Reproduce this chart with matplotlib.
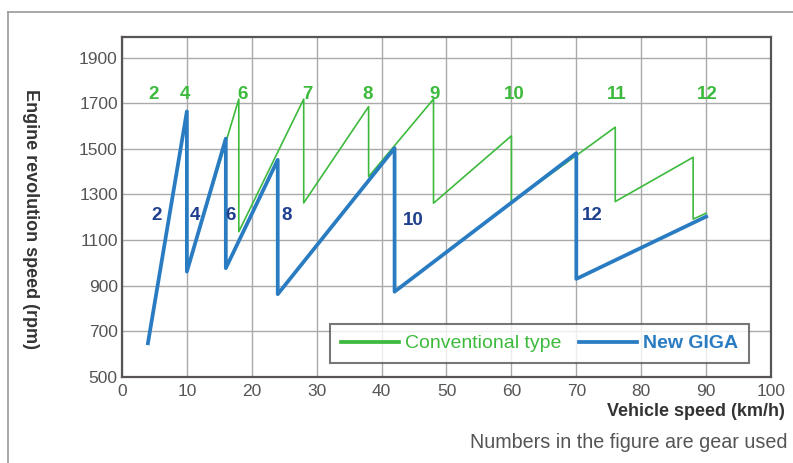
import matplotlib.pyplot as plt
from matplotlib.lines import Line2D

plt.rcParams['font.family'] = ['Liberation Sans', 'DejaVu Sans']

# conventional type (green) speed / rpm path
conv_speed = [4, 10, 10, 18, 18, 28, 28, 38, 38, 48, 48, 60, 60, 76, 76, 88, 88, 90]
conv_rpm = [650, 1660, 960, 1718, 1137, 1718, 1263, 1685, 1378, 1718, 1262, 1557, 1264, 1595, 1269, 1463, 1192, 1218]

# New GIGA (blue) speed / rpm path
giga_speed = [4, 10, 10, 16, 16, 24, 24, 42, 42, 70, 70, 90]
giga_rpm = [648, 1664, 962, 1545, 977, 1452, 863, 1503, 874, 1481, 930, 1203]

# gear labels
conv_gears = ['2', '4', '6', '7', '8', '9', '10', '11', '12']
conv_gear_x = [4.9, 9.7, 18.6, 28.6, 37.9, 48.1, 60.4, 76.2, 90.1]
conv_gear_y = 1737
giga_gears = ['2', '4', '6', '8', '10', '12']
giga_gear_x = [5.4, 11.2, 16.8, 25.3, 44.9, 72.4]
giga_gear_y = [1206, 1206, 1206, 1206, 1184, 1206]

xticks = list(range(0, 101, 10))
yticks = list(range(500, 2000, 200))

green = '#3dba3d'
blue = '#2a7cc2'
navy = '#1f3f8f'

fig = plt.figure(figsize=(7.93, 4.63), dpi=100)
ax = fig.add_axes([0.1538, 0.1857, 0.8185, 0.7343])

ax.plot(conv_speed, conv_rpm, color=green, linewidth=1.2, zorder=3)
ax.plot(giga_speed, giga_rpm, color=blue, linewidth=2.7, zorder=4)

for g, x in zip(conv_gears, conv_gear_x):
    ax.text(x, conv_gear_y, g, color=green, fontsize=13.5, fontweight='bold',
            ha='center', va='center', zorder=5)
for g, x, y in zip(giga_gears, giga_gear_x, giga_gear_y):
    ax.text(x, y, g, color=navy, fontsize=13.5, fontweight='bold',
            ha='center', va='center', zorder=5)

ax.set_xlim(0, 100)
ax.set_ylim(500, 1990)
ax.set_xticks(xticks)
ax.set_yticks(yticks)
ax.grid(True, color='#aaaaaa', linewidth=1.0, zorder=0)
ax.set_axisbelow(True)
ax.tick_params(axis='both', length=0, labelsize=12.5, labelcolor='#555555')
ax.tick_params(axis='x', pad=5)
ax.tick_params(axis='y', pad=3)
for s in ax.spines.values():
    s.set_color('#5a5555')
    s.set_linewidth(1.6)

handles = [Line2D([], [], color=green, linewidth=2.7),
           Line2D([], [], color=blue, linewidth=2.7)]
leg = ax.legend(handles, ['Conventional type', 'New GIGA'], ncol=2,
                loc='lower right', bbox_to_anchor=(0.966, 0.041),
                fontsize=14, frameon=True, fancybox=False,
                handlelength=3.0, handletextpad=0.3, columnspacing=0.9,
                borderpad=0.55, borderaxespad=0)
leg.get_frame().set_edgecolor('#555555')
leg.get_frame().set_linewidth(1.5)
leg.set_zorder(6)
txts = leg.get_texts()
txts[0].set_color(green)
txts[1].set_color(blue)
txts[1].set_fontweight('bold')

fig.text(30 / 793, 1 - 219 / 463, 'Engine revolution speed (rpm)', rotation=270,
         ha='center', va='center', fontsize=13, fontweight='bold', color='#333333')
fig.text(785 / 793, 1 - 411 / 463, 'Vehicle speed (km/h)', ha='right', va='center',
         fontsize=13, fontweight='bold', color='#333333')
fig.text(788 / 793, 1 - 442 / 463, 'Numbers in the figure are gear used',
         ha='right', va='center', fontsize=14.2, color='#555555')

# outer frame (top and left edges)
fig.add_artist(Line2D([8 / 793, 1], [1 - 12 / 463, 1 - 12 / 463], color='#999999', linewidth=1.2))
fig.add_artist(Line2D([8 / 793, 8 / 793], [0, 1 - 12 / 463], color='#999999', linewidth=1.2))

plt.savefig('out.png', dpi=100)
